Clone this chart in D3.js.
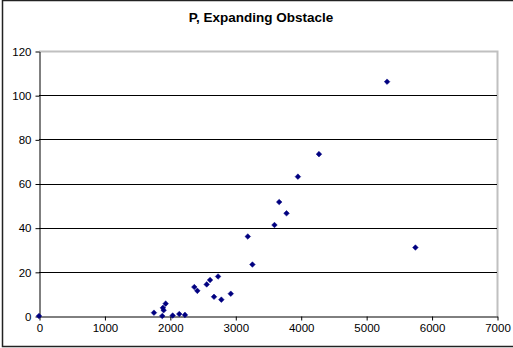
<!doctype html>
<html>
<head>
<style>
body { margin:0; background:#fff; }
svg { display:block; font-family:Arial, "Liberation Sans", sans-serif; }
</style>
<script src="https://cdn.jsdelivr.net/npm/d3@7"></script>
</head>
<body>
<script>
// data
var title = 'P, Expanding Obstacle';
var xValues = [0, 1757, 1884, 1894, 1905, 1936, 2043, 2144, 2231, 2374, 2420, 2563, 2614,
               2675, 2737, 2787, 2931, 3191, 3262, 3599, 3671, 3783, 3957, 4279, 5320, 5753];
var yValues = [0, 1.5, 0, 3.7, 2.6, 5.6, 0.2, 0.9, 0.5, 13.1, 11.4, 14.3, 16.3,
               8.7, 17.9, 7.4, 10.1, 36.0, 23.3, 41.2, 51.6, 46.5, 63.1, 73.3, 106.1, 31.0];
var xTicks = [0, 1000, 2000, 3000, 4000, 5000, 6000, 7000];
var yTicks = [0, 20, 40, 60, 80, 100, 120];

var width = 513, height = 348;
// plot box (window.top is read-only, so no "top" here)
var plotL = 39, plotR = 497, plotT = 51, plotB = 316;

var svg = d3.select('body').append('svg')
    .attr('width', width)
    .attr('height', height);

// outer chart frame
svg.append('rect')
    .attr('x', 2.5).attr('y', 0.5)
    .attr('width', 520).attr('height', 346)
    .attr('fill', 'none')
    .attr('stroke', '#222')
    .attr('stroke-width', 1.5);

svg.append('text')
    .attr('x', 261).attr('y', 22)
    .attr('text-anchor', 'middle')
    .attr('font-size', 13.5)
    .attr('font-weight', 'bold')
    .text(title);

var x = d3.scaleLinear().domain([0, 7000]).range([plotL, plotR]);
var y = d3.scaleLinear().domain([0, 120]).range([plotB, plotT]);

// plot area border (grey top/right)
svg.append('path')
    .attr('d', 'M' + plotL + ',' + (plotT + 0.5) + 'H' + (plotR + 0.5) + 'V' + plotB)
    .attr('fill', 'none')
    .attr('stroke', '#c0c0c0')
    .attr('stroke-width', 2);

// gridlines
svg.append('g')
  .selectAll('line')
  .data(yTicks.filter(function(d) { return d > 0 && d < 120; }))
  .enter().append('line')
    .attr('x1', plotL).attr('x2', plotR)
    .attr('y1', function(d) { return Math.round(y(d)) + 0.5; })
    .attr('y2', function(d) { return Math.round(y(d)) + 0.5; })
    .attr('stroke', '#000');

var yAxis = svg.append('g')
    .attr('transform', 'translate(' + (plotL + 0.5) + ',0.5)')
    .call(d3.axisLeft(y).tickValues(yTicks).tickSize(4).tickPadding(4).tickSizeOuter(0));

var xAxis = svg.append('g')
    .attr('transform', 'translate(0.5,' + (plotB + 0.5) + ')')
    .call(d3.axisBottom(x).tickValues(xTicks).tickSize(4).tickPadding(3).tickSizeOuter(0)
        .tickFormat(d3.format('d')));

[yAxis, xAxis].forEach(function(g) {
  g.selectAll('text').attr('font-size', 11.5).attr('fill', '#000')
    .attr('font-family', 'Arial, "Liberation Sans", sans-serif');
  g.selectAll('line, path').attr('stroke', '#000');
});

// markers
var pts = xValues.map(function(v, i) { return [v, yValues[i]]; });
svg.append('g')
  .selectAll('path')
  .data(pts)
  .enter().append('path')
    .attr('transform', function(d) { return 'translate(' + x(d[0]) + ',' + y(d[1]) + ')'; })
    .attr('d', 'M0,-2.8L2.8,0L0,2.8L-2.8,0Z')
    .attr('fill', '#000080')
    .attr('stroke', '#000080')
    .attr('stroke-width', 0.5);
</script>
</body>
</html>
